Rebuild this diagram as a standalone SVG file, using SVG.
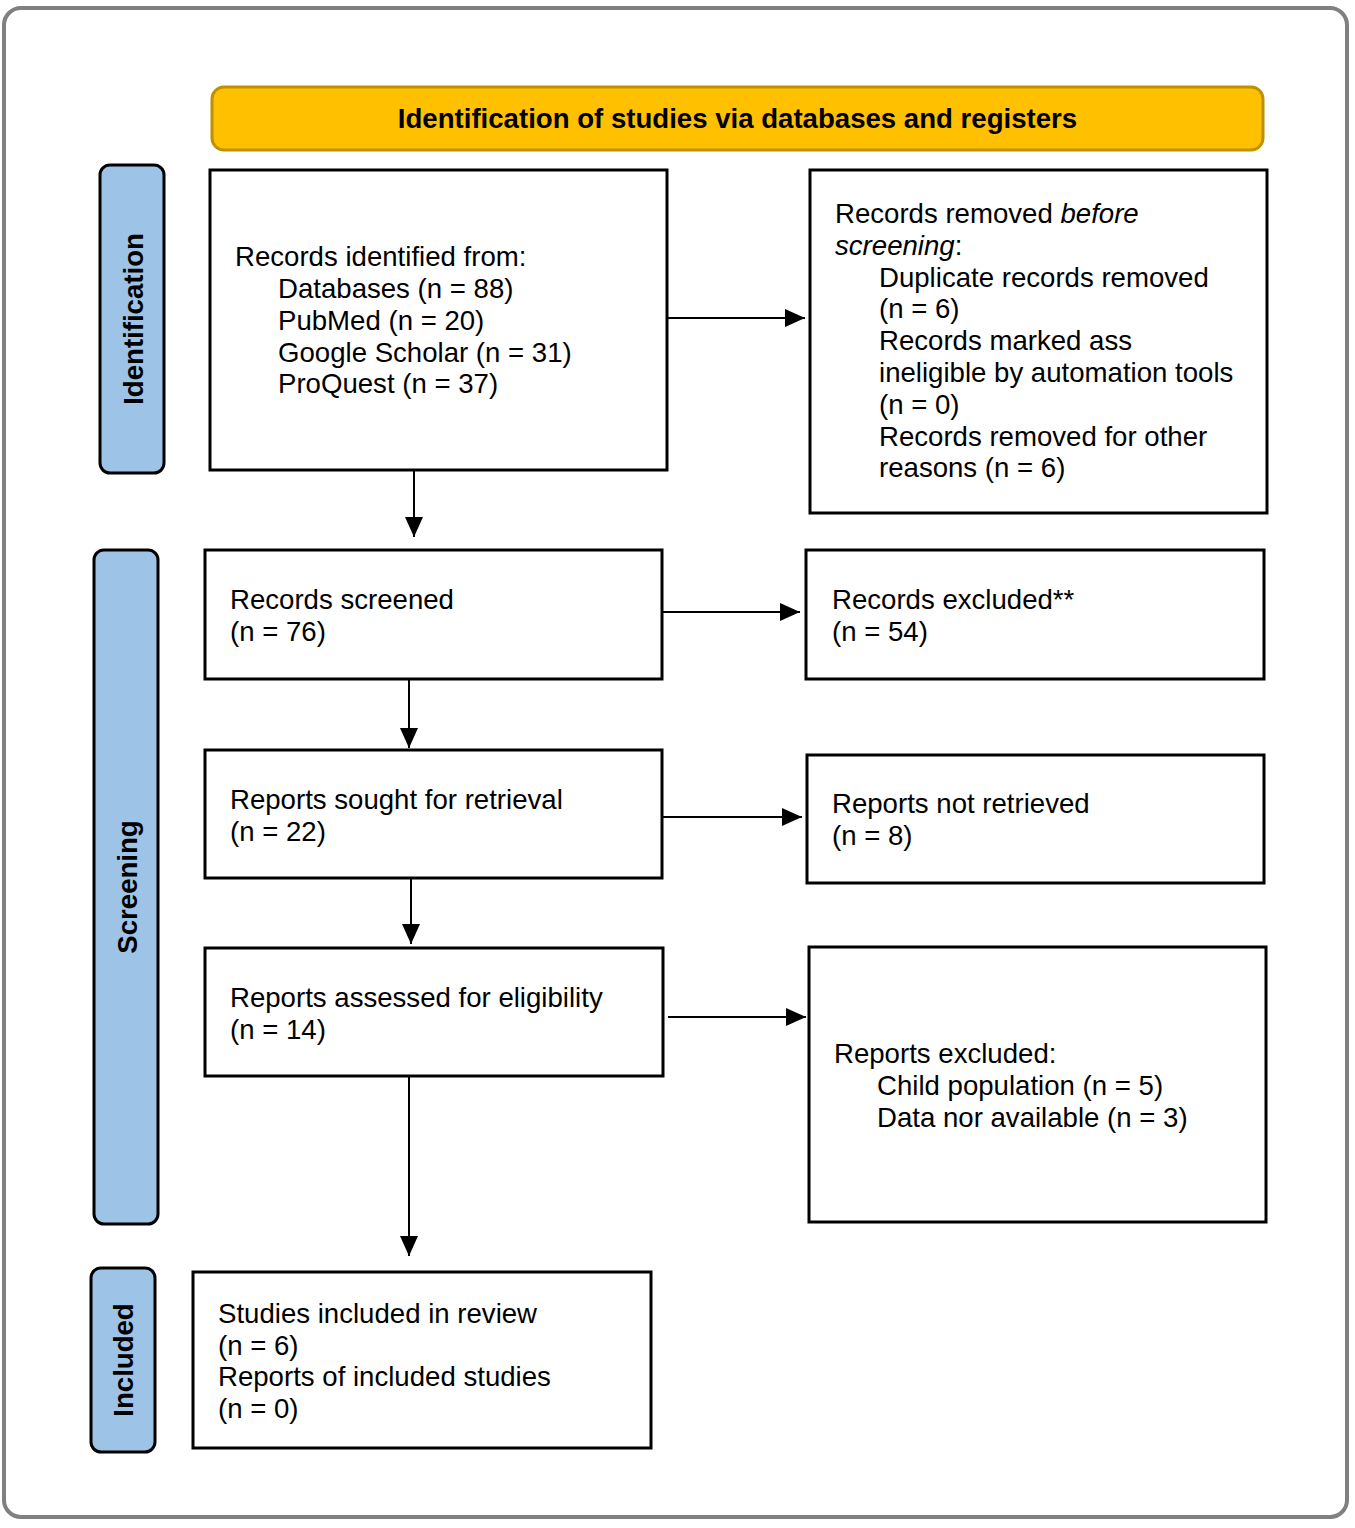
<svg xmlns="http://www.w3.org/2000/svg" width="1355" height="1528" viewBox="0 0 1355 1528">
<style>
  text { font-family: "Liberation Sans", Arial, sans-serif; font-size: 27.6px; fill: #000; }
  .box { fill: #fff; stroke: #000; stroke-width: 3; }
  .side { fill: #9DC3E6; stroke: #000; stroke-width: 3; }
  .lbl { font-weight: bold; text-anchor: middle; }
  .conn { stroke: #000; stroke-width: 2; fill: none; marker-end: url(#ah); }
</style>
<defs>
  <marker id="ah" markerUnits="userSpaceOnUse" markerWidth="20" markerHeight="18" refX="20" refY="9" orient="auto">
    <path d="M0,0 L20,9 L0,18 z" fill="#000"/>
  </marker>
</defs>
<rect x="0" y="0" width="1355" height="1528" fill="#fff"/>
<rect id="frame" x="4" y="8" width="1343" height="1509" rx="17" fill="none" stroke="#808080" stroke-width="4"/>

<g id="header">
  <rect x="212" y="87" width="1051" height="63" rx="12" fill="#FFC000" stroke="#BF9000" stroke-width="3"/>
  <text class="lbl" x="737.5" y="128">Identification of studies via databases and registers</text>
</g>

<g id="side-identification">
  <rect class="side" x="100" y="165" width="64" height="308" rx="10"/>
  <text class="lbl" transform="translate(143,319) rotate(-90)">Identification</text>
</g>
<g id="side-screening">
  <rect class="side" x="94" y="550" width="64" height="674" rx="10"/>
  <text class="lbl" transform="translate(137,887) rotate(-90)">Screening</text>
</g>
<g id="side-included">
  <rect class="side" x="91" y="1268" width="64" height="184" rx="10"/>
  <text class="lbl" transform="translate(133,1360) rotate(-90)">Included</text>
</g>

<g id="records-identified">
  <rect class="box" x="210" y="170" width="457" height="300"/>
  <text x="235" y="266">Records identified from:</text>
  <text x="278" y="298">Databases (n = 88)</text>
  <text x="278" y="330">PubMed (n = 20)</text>
  <text x="278" y="362">Google Scholar (n = 31)</text>
  <text x="278" y="393">ProQuest (n = 37)</text>
</g>

<g id="records-removed">
  <rect class="box" x="810" y="170" width="457" height="343"/>
  <text x="835" y="223">Records removed <tspan font-style="italic">before</tspan></text>
  <text x="835" y="255"><tspan font-style="italic">screening</tspan>:</text>
  <text x="879" y="287">Duplicate records removed</text>
  <text x="879" y="318">(n = 6)</text>
  <text x="879" y="350">Records marked ass</text>
  <text x="879" y="382">ineligible by automation tools</text>
  <text x="879" y="414">(n = 0)</text>
  <text x="879" y="446">Records removed for other</text>
  <text x="879" y="477">reasons (n = 6)</text>
</g>

<g id="records-screened">
  <rect class="box" x="205" y="550" width="457" height="129"/>
  <text x="230" y="609">Records screened</text>
  <text x="230" y="641">(n = 76)</text>
</g>

<g id="records-excluded">
  <rect class="box" x="806" y="550" width="458" height="129"/>
  <text x="832" y="609">Records excluded**</text>
  <text x="832" y="641">(n = 54)</text>
</g>

<g id="reports-sought">
  <rect class="box" x="205" y="750" width="457" height="128"/>
  <text x="230" y="809">Reports sought for retrieval</text>
  <text x="230" y="841">(n = 22)</text>
</g>

<g id="reports-not-retrieved">
  <rect class="box" x="807" y="755" width="457" height="128"/>
  <text x="832" y="813">Reports not retrieved</text>
  <text x="832" y="845">(n = 8)</text>
</g>

<g id="reports-assessed">
  <rect class="box" x="205" y="948" width="458" height="128"/>
  <text x="230" y="1007">Reports assessed for eligibility</text>
  <text x="230" y="1039">(n = 14)</text>
</g>

<g id="reports-excluded">
  <rect class="box" x="809" y="947" width="457" height="275"/>
  <text x="834" y="1063">Reports excluded:</text>
  <text x="877" y="1095">Child population (n = 5)</text>
  <text x="877" y="1127">Data nor available (n = 3)</text>
</g>

<g id="studies-included">
  <rect class="box" x="193" y="1272" width="458" height="176"/>
  <text x="218" y="1323">Studies included in review</text>
  <text x="218" y="1355">(n = 6)</text>
  <text x="218" y="1386">Reports of included studies</text>
  <text x="218" y="1418">(n = 0)</text>
</g>

<g id="connectors">
  <line class="conn" x1="667" y1="318" x2="805" y2="318"/>
  <line class="conn" x1="414" y1="470" x2="414" y2="537"/>
  <line class="conn" x1="662" y1="612" x2="800" y2="612"/>
  <line class="conn" x1="409" y1="679" x2="409" y2="748"/>
  <line class="conn" x1="663" y1="817" x2="802" y2="817"/>
  <line class="conn" x1="411" y1="878" x2="411" y2="944"/>
  <line class="conn" x1="668" y1="1017" x2="806" y2="1017"/>
  <line class="conn" x1="409" y1="1076" x2="409" y2="1256"/>
</g>
</svg>
